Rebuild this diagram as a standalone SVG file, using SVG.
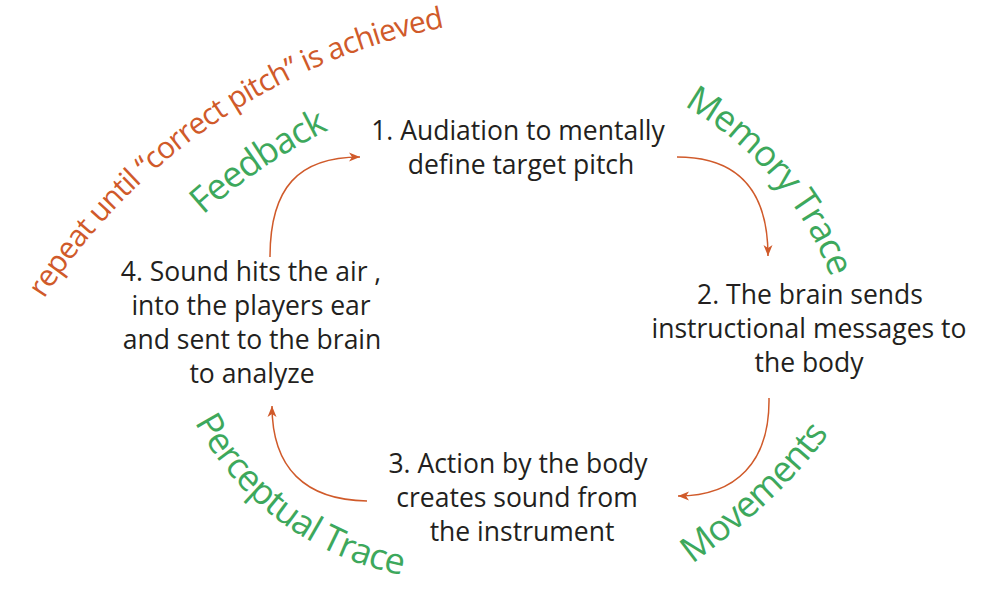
<svg xmlns="http://www.w3.org/2000/svg" width="1004" height="616" viewBox="0 0 1004 616">
<style>
.node{font-family:"Open Sans","Liberation Sans",sans-serif;font-size:26.5px;fill:#231F20;text-anchor:middle}
.green{font-family:"Open Sans","Liberation Sans",sans-serif;font-size:36px;letter-spacing:-1px;fill:#3DA85C}
.orange{font-family:"Open Sans","Liberation Sans",sans-serif;font-size:30px;letter-spacing:-0.8px;fill:#D05A2A}
.conn{fill:none;stroke:#D05A2A;stroke-width:1.5}
</style>
<defs>
<marker id="ah" markerUnits="userSpaceOnUse" markerWidth="12" markerHeight="10" viewBox="0 0 12 10" refX="11" refY="5" orient="auto">
<path d="M0,0.5 L11,5 L0,9.5 L3,5 z" fill="#D05A2A"/>
</marker>
<path id="pOrange" d="M44,299 A620,620 0 0 1 474.7,22"/>
<path id="pFeed" d="M203,215 A558,558 0 0 1 370.2,111.6"/>
<path id="pMem" d="M684,105.9 A331,331 0 0 1 847,336.5"/>
<path id="pMov" d="M692,564 Q786,495 830,432 L860,389"/>
<path id="pPerc" d="M194.6,422.1 A297,297 0 0 0 482.9,578.9"/>
</defs>
<rect width="1004" height="616" fill="#FFFFFF"/>
<g id="labels">
<text class="orange"><textPath href="#pOrange">repeat until “correct pitch” is achieved</textPath></text>
<text class="green"><textPath href="#pFeed">Feedback</textPath></text>
<text class="green"><textPath href="#pMem">Memory Trace</textPath></text>
<text class="green"><textPath href="#pMov">Movements</textPath></text>
<text class="green"><textPath href="#pPerc">Perceptual Trace</textPath></text>
</g>
<g id="node1">
<text class="node" x="518" y="140">1. Audiation to mentally</text>
<text class="node" x="521" y="174">define target pitch</text>
</g>
<g id="node2">
<text class="node" x="810" y="304">2. The brain sends</text>
<text class="node" x="809" y="338">instructional messages to</text>
<text class="node" x="809" y="372">the body</text>
</g>
<g id="node3">
<text class="node" x="518" y="473">3. Action by the body</text>
<text class="node" x="517" y="507">creates sound from</text>
<text class="node" x="522" y="541">the instrument</text>
</g>
<g id="node4">
<text class="node" x="251" y="281">4. Sound hits the air ,</text>
<text class="node" x="251" y="315">into the players ear</text>
<text class="node" x="252" y="349">and sent to the brain</text>
<text class="node" x="252" y="383">to analyze</text>
</g>
<g id="connectors">
<path class="conn" d="M270,257 C270,188 298,157 360,157" marker-end="url(#ah)"/>
<path class="conn" d="M677,157 C735,157 768,187 768,256" marker-end="url(#ah)"/>
<path class="conn" d="M769,398 C770,462 736,496 678,496" marker-end="url(#ah)"/>
<path class="conn" d="M367,501 C305,500 272,468 272,406" marker-end="url(#ah)"/>
</g>
</svg>
